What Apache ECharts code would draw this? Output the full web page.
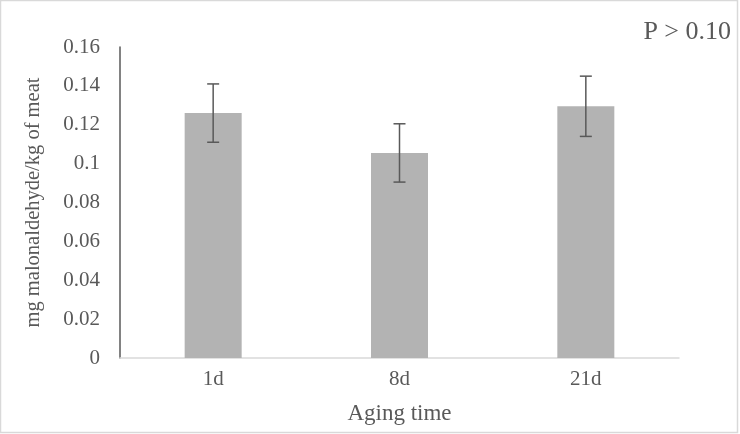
<!DOCTYPE html>
<html><head><meta charset="utf-8">
<script src="https://cdn.jsdelivr.net/npm/echarts@6/dist/echarts.min.js"></script>
<style>html,body{margin:0;padding:0;background:#fff}#c{width:740px;height:434px}</style>
</head><body><div id="c"></div>
<script>
const categories = ['1d', '8d', '21d'];
const values = [0.126, 0.1055, 0.1295];
const errors = [0.015, 0.015, 0.0155];
const yTicks = [0, 0.02, 0.04, 0.06, 0.08, 0.1, 0.12, 0.14, 0.16];

const font = 'Liberation Serif';
const txt = '#595959';
const chart = echarts.init(document.getElementById('c'));
chart.setOption({
  backgroundColor: '#fff',
  animation: false,
  title: { text: 'P > 0.10', right: 4, top: 14, textStyle: { fontFamily: font, fontSize: 26, fontWeight: 'normal', color: txt } },
  graphic: [{ type: 'rect', shape: { x: 0.5, y: 0.5, width: 737, height: 432 }, style: { fill: 'none', stroke: '#d9d9d9', lineWidth: 1.5 } }],
  grid: { left: 120, right: 61, top: 47, bottom: 76 },
  xAxis: {
    type: 'category', data: categories,
    name: 'Aging time', nameLocation: 'middle', nameGap: 44,
    nameTextStyle: { fontFamily: font, fontSize: 23, color: txt },
    axisLine: { lineStyle: { color: '#d9d9d9', width: 1.5 } },
    axisTick: { show: false },
    axisLabel: { fontFamily: font, fontSize: 21, color: txt, margin: 11 }
  },
  yAxis: {
    type: 'value', min: 0, max: 0.16, interval: 0.02,
    name: 'mg malonaldehyde/kg of meat', nameLocation: 'middle', nameGap: 76,
    nameTextStyle: { fontFamily: font, fontSize: 20.5, color: txt },
    axisLine: { show: true, lineStyle: { color: '#595959', width: 1.5 } },
    axisTick: { show: false },
    splitLine: { show: false },
    axisLabel: { fontFamily: font, fontSize: 21, color: txt, margin: 20,
      formatter: v => { const t = yTicks.find(x => Math.abs(x - v) < 1e-9); return String(t !== undefined ? t : v); } }
  },
  series: [
    { type: 'bar', data: values, barWidth: 57, itemStyle: { color: '#b3b3b3' } },
    { type: 'custom', data: values.map((v, i) => [i, v - errors[i], v + errors[i]]), z: 10,
      renderItem: (params, api) => {
        const lo = api.coord([api.value(0), api.value(1)]);
        const hi = api.coord([api.value(0), api.value(2)]);
        const w = 6;
        const st = { stroke: '#595959', lineWidth: 1.5 };
        return { type: 'group', children: [
          { type: 'line', shape: { x1: lo[0], y1: lo[1], x2: hi[0], y2: hi[1] }, style: st },
          { type: 'line', shape: { x1: lo[0] - w, y1: lo[1], x2: lo[0] + w, y2: lo[1] }, style: st },
          { type: 'line', shape: { x1: hi[0] - w, y1: hi[1], x2: hi[0] + w, y2: hi[1] }, style: st }
        ]};
      } }
  ]
});
</script></body></html>
